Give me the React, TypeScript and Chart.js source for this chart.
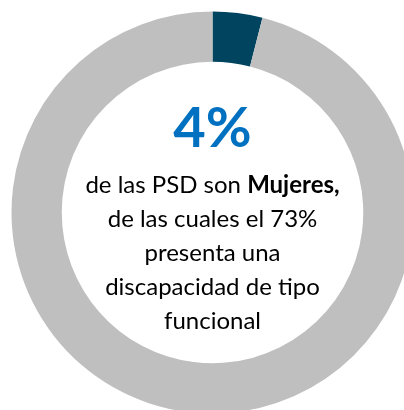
import React, { useEffect, useRef } from "react";
import { Chart, registerables } from "chart.js";

Chart.register(...registerables);

const categories = ["Mujeres PSD", "Resto"];
const values = [4, 96];
const colors = ["#00445f", "#bfbfbf"];
const headline = "4%";
const bodyLines = ["de las PSD son ", "de las cuales el 73%", "presenta una", "discapacidad de tipo", "funcional"];
const boldWord = "Mujeres,";

export default function App() {
  const ref = useRef<HTMLCanvasElement | null>(null);
  useEffect(() => {
    if (!ref.current) return;
    const chart = new Chart(ref.current, {
      type: "doughnut",
      data: {
        labels: categories,
        datasets: [{ data: values, backgroundColor: colors, borderWidth: 0 }],
      },
      options: {
        responsive: false,
        animation: false,
        cutout: "75%",
        layout: { padding: 11.5 },
        plugins: { legend: { display: false }, tooltip: { enabled: false } },
      },
    });
    return () => chart.destroy();
  }, []);

  const font = "Lato, 'Open Sans', sans-serif";
  return (
    <div style={{ position: "fixed", left: 0, top: 0, width: 404, height: 410, overflow: "hidden", background: "#fff" }}>
      <canvas ref={ref} width={425} height={425} style={{ position: "absolute", left: 0, top: 0, width: 425, height: 425 }} />
      <div style={{ position: "absolute", left: 12.5, width: 400, top: 98, textAlign: "center", fontFamily: font, fontWeight: 700, fontSize: 56, lineHeight: "56px", color: "#0070c0", whiteSpace: "nowrap" }}>
        {headline}
      </div>
      <div style={{ position: "absolute", left: 12.5, width: 400, top: 166.5, textAlign: "center", fontFamily: font, fontSize: 24, lineHeight: "34px", color: "#000", whiteSpace: "nowrap" }}>
        <div>{bodyLines[0]}<b>{boldWord}</b></div>
        {bodyLines.slice(1).map((l, i) => (<div key={i}>{l}</div>))}
      </div>
    </div>
  );
}
